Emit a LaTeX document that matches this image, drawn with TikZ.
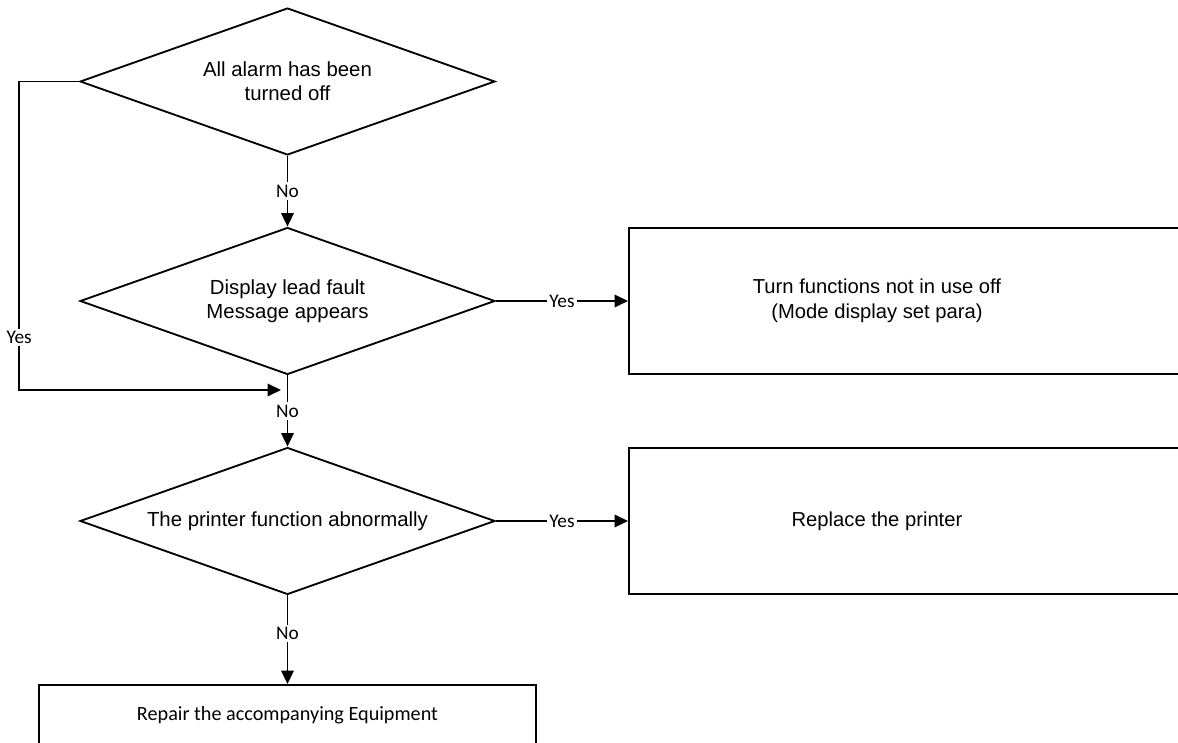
\documentclass[tikz,border=0pt]{standalone}
\usepackage{fontspec}
\setmainfont{Liberation Sans}
\newfontfamily\labfont{Carlito}
\usetikzlibrary{shapes.geometric,arrows.meta}

\tikzset{
    decision/.style={draw, diamond, aspect=2.82, inner sep=0pt, minimum width=8.3cm, minimum height=2.94cm, align=center, font=\fontsize{11.6}{13.6}\selectfont},
    actbox/.style={draw, rectangle, minimum width=14cm, minimum height=2.92cm},
    boxtext/.style={align=center, inner sep=0pt, font=\fontsize{11.5}{14}\selectfont},
    repairbox/.style={draw, rectangle, minimum width=9.94cm, minimum height=1.2cm, font=\labfont\fontsize{11.5}{13}\selectfont},
    lab/.style={fill=white, inner sep=1.5pt, font=\labfont\fontsize{11}{12}\selectfont},
    flow/.style={-{Triangle[length=0.27cm,width=0.25cm]}}
}

\begin{document}
\begin{tikzpicture}[x=0.02cm, y=-0.02cm, line width=1.05pt]
    \useasboundingbox (0,0) rectangle (1178,743);
    \node[decision] (alarm) at (287.5,81.5) {All alarm has been\\turned off};
    \node[decision] (lead) at (287.5,301) {Display lead fault\\Message appears};
    \node[decision] (printer) at (287.5,521) {The printer function abnormally};
    \node[actbox, anchor=west] (turnoff) at (628,301) {};
    \node[boxtext] (turnofftext) at (877,301) {Turn functions not in use off\\(Mode display set para)};
    \node[actbox, anchor=west] (replace) at (628,521) {};
    \node[boxtext] (replacetext) at (877,521) {Replace the printer};
    \node[repairbox] (repair) at (287.5,715) {Repair the accompanying Equipment};
    \coordinate (merge) at (281,390);

    \draw[flow] (alarm.south) -- node[lab] {No} (lead.north);
    \draw[flow] (lead.south) -- node[lab] {No} (printer.north);
    \draw[flow] (printer.south) -- node[lab, pos=0.43] {No} (repair.north);
    \draw[flow] (lead.east) -- node[lab] {Yes} (turnoff.west);
    \draw[flow] (printer.east) -- node[lab] {Yes} (replace.west);
    \draw[flow] (alarm.west) -- ++(-60,0) |- node[lab, pos=0.415] {Yes} (merge);
\end{tikzpicture}
\end{document}
